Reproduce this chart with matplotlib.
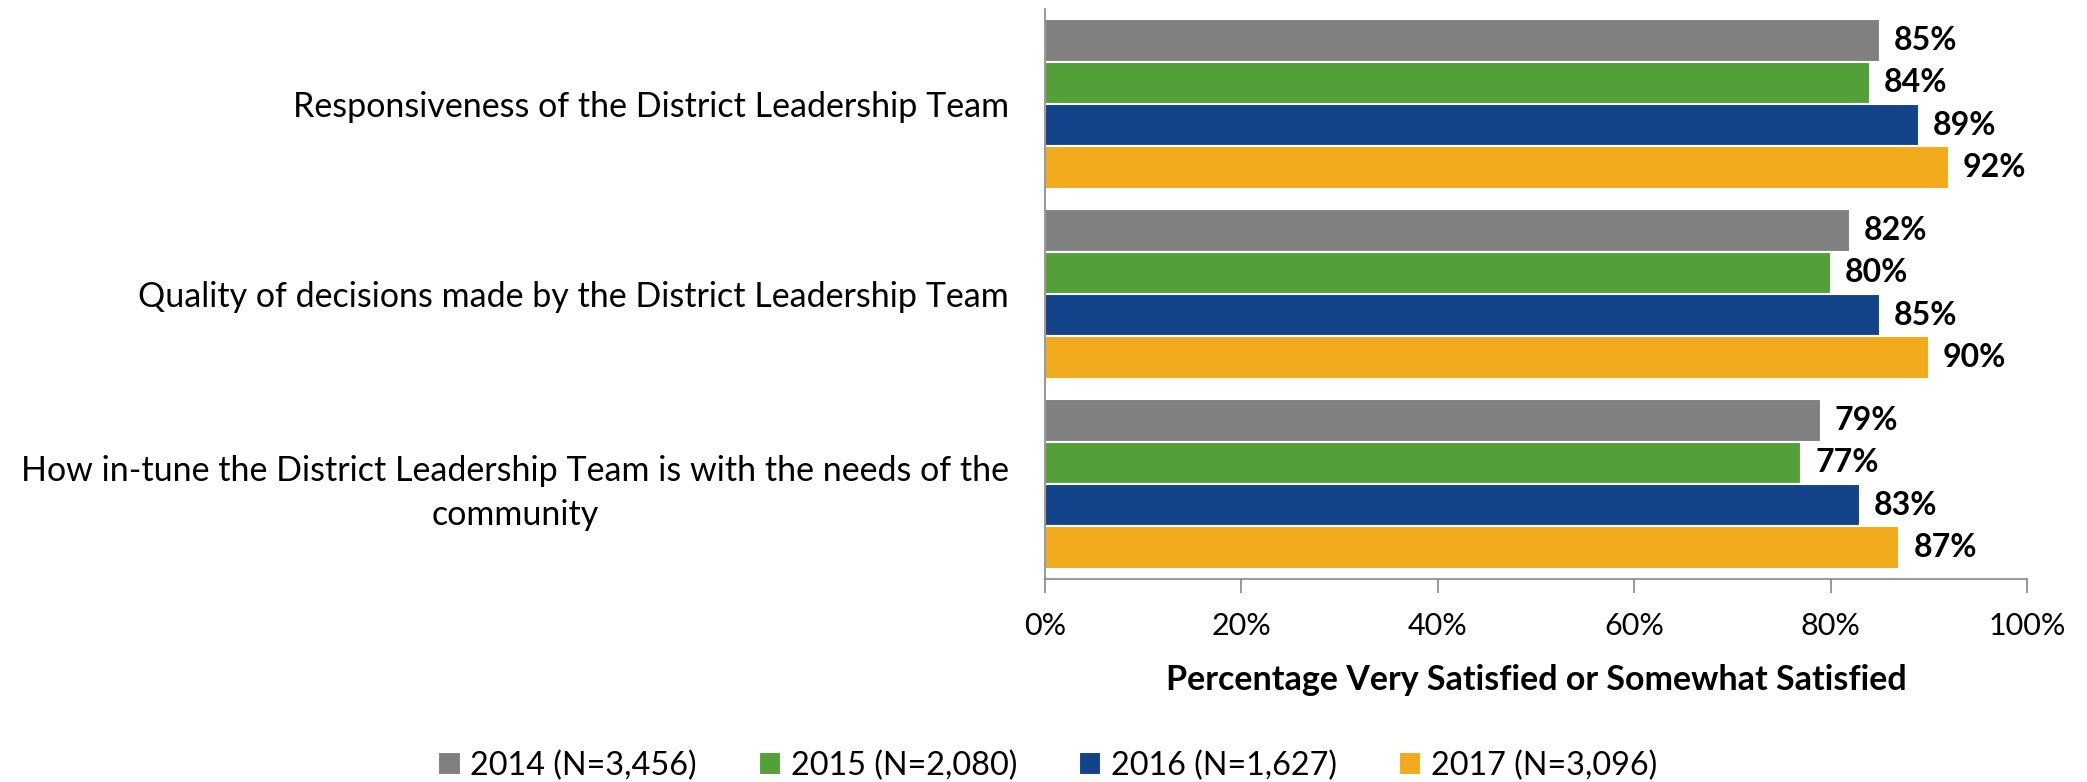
import matplotlib
matplotlib.use("Agg")
import matplotlib.pyplot as plt
import numpy as np

# chart data
categories = [
    "Responsiveness of the District Leadership Team",
    "Quality of decisions made by the District Leadership Team",
    "How in-tune the District Leadership Team is with the needs of the\ncommunity",
]
series_names = ["2014 (N=3,456)", "2015 (N=2,080)", "2016 (N=1,627)", "2017 (N=3,096)"]
vals_2014 = [85, 82, 79]
vals_2015 = [84, 80, 77]
vals_2016 = [89, 85, 83]
vals_2017 = [92, 90, 87]
colors = ["#808080", "#54A038", "#134389", "#F0AA1C"]
x_ticks = [0, 20, 40, 60, 80, 100]

plt.rcParams["font.family"] = ["Lato", "DejaVu Sans"]

fig = plt.figure(figsize=(20.87, 7.82), dpi=100)
ax = fig.add_axes([0.5007, 0.2596, 0.4706, 0.729])

all_vals = [vals_2014, vals_2015, vals_2016, vals_2017]
bar_h = 0.2228
y_cat = np.arange(len(categories))
for j, (vals, name, col) in enumerate(zip(all_vals, series_names, colors)):
    ys = y_cat + (j - 1.5) * bar_h
    ax.barh(ys, vals, height=bar_h, color=col, edgecolor="white", linewidth=1.5, label=name)
    for y, v in zip(ys, vals):
        ax.annotate(f"{v}%", (v, y), xytext=(10, 0), textcoords="offset points",
                    ha="left", va="center", fontsize=23, fontweight="bold", color="black")

ax.set_ylim(len(categories) - 0.5, -0.5)
ax.set_xlim(0, 100)
ax.set_xticks(x_ticks)
ax.set_xticklabels([f"{t}%" for t in x_ticks], fontsize=22)
ax.set_yticks(y_cat)
ax.set_yticklabels(categories, fontsize=24.5, multialignment="center", linespacing=1.45)
ax.tick_params(axis="y", length=0, pad=26)
ax.tick_params(axis="x", length=10, width=1.2, color="#868686", pad=14)
ax.set_xlabel("Percentage Very Satisfied or Somewhat Satisfied", fontsize=24.5,
              fontweight="bold", labelpad=17)

for s in ["top", "right"]:
    ax.spines[s].set_visible(False)
for s in ["left", "bottom"]:
    ax.spines[s].set_color("#868686")
    ax.spines[s].set_linewidth(1.2)

fig.legend(loc="center", bbox_to_anchor=(0.502, 0.021), ncol=4, frameon=False,
           fontsize=23.3, handlelength=0.7, handleheight=0.7, handletextpad=0.3,
           columnspacing=1.9)

fig.savefig("out.png", dpi=100)
